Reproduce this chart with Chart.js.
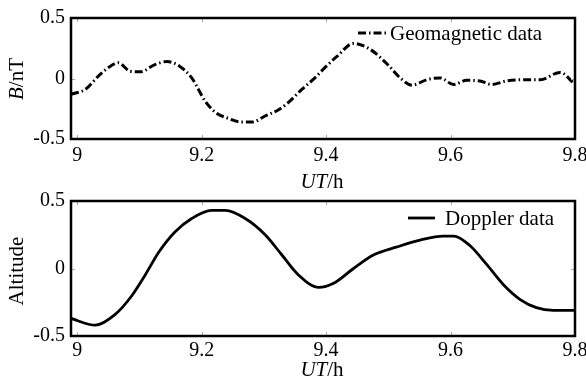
<!DOCTYPE html>
<html>
<head>
<meta charset="utf-8">
<script src="https://cdn.jsdelivr.net/npm/chart.js@4/dist/chart.umd.min.js"></script>
<style>
  html, body { margin: 0; padding: 0; background: #fff; }
  #wrap { position: relative; width: 586px; height: 384px; overflow: hidden; font-family: "Liberation Serif", "Times New Roman", serif; color: #000; }
  .cv { position: absolute; left: 0; width: 586px; }
  .lbl { position: absolute; font-size: 21px; white-space: nowrap; transform: translate(-50%, -50%); line-height: 1; }
  .rot { transform: translate(-50%, -50%) rotate(-90deg); }
</style>
</head>
<body>
<div id="wrap">
  <div class="cv" style="top:0;height:190px;"><canvas id="c1" width="586" height="190"></canvas></div>
  <div class="cv" style="top:190px;height:194px;"><canvas id="c2" width="586" height="194"></canvas></div>
  <div class="lbl rot" style="left:16px;top:79px;"><i>B</i>/nT</div>
  <div class="lbl rot" style="left:16px;top:271px;">Altitude</div>
  <div class="lbl" style="left:322px;top:181px;"><i>UT</i>/h</div>
  <div class="lbl" style="left:322px;top:369px;"><i>UT</i>/h</div>
</div>
<script>
// ---- data ----
const xTicks = [9, 9.2, 9.4, 9.6, 9.8];
const yTicks = [-0.5, 0, 0.5];

const geoLabel = "Geomagnetic data";
const geoX = [8.99, 9.013, 9.034, 9.05, 9.066, 9.085, 9.101, 9.125, 9.144, 9.165, 9.184, 9.206, 9.222, 9.243, 9.265, 9.281, 9.302, 9.323, 9.339, 9.361, 9.382, 9.398, 9.417, 9.444, 9.471, 9.498, 9.519, 9.538, 9.562, 9.583, 9.605, 9.626, 9.647, 9.666, 9.69, 9.722, 9.744, 9.776, 9.8];
const geoY = [-0.13, -0.09, 0.02, 0.09, 0.13, 0.06, 0.055, 0.115, 0.14, 0.10, 0.005, -0.19, -0.28, -0.33, -0.36, -0.36, -0.31, -0.26, -0.20, -0.09, 0.005, 0.09, 0.18, 0.29, 0.24, 0.12, 0.005, -0.055, -0.01, 0.005, -0.05, -0.015, -0.02, -0.05, -0.02, -0.01, -0.01, 0.05, -0.05];

const dopLabel = "Doppler data";
const dopX = [8.99, 9.029, 9.061, 9.088, 9.109, 9.131, 9.157, 9.184, 9.216, 9.238, 9.27, 9.302, 9.329, 9.356, 9.388, 9.412, 9.444, 9.476, 9.514, 9.551, 9.588, 9.605, 9.631, 9.658, 9.685, 9.712, 9.738, 9.765, 9.8];
const dopY = [-0.37, -0.42, -0.34, -0.20, -0.05, 0.12, 0.27, 0.37, 0.43, 0.43, 0.37, 0.25, 0.10, -0.05, -0.14, -0.11, 0.0, 0.10, 0.16, 0.21, 0.24, 0.24, 0.17, 0.03, -0.12, -0.23, -0.29, -0.31, -0.31];

const FONT = "'Liberation Serif', 'Times New Roman', serif";

const framePlugin = {
  id: 'frame',
  afterDatasetsDraw(chart, args, opts) {
    const ctx = chart.ctx, a = chart.chartArea;
    const xs = chart.scales.x, ys = chart.scales.y;
    ctx.save();
    // inner tick marks
    ctx.strokeStyle = '#aaa';
    ctx.lineWidth = 1;
    ctx.beginPath();
    xTicks.forEach(v => {
      const px = Math.round(xs.getPixelForValue(v)) + 0.5;
      ctx.moveTo(px, a.bottom); ctx.lineTo(px, a.bottom - 4);
      ctx.moveTo(px, a.top); ctx.lineTo(px, a.top + 4);
    });
    yTicks.forEach(v => {
      const py = Math.round(ys.getPixelForValue(v)) + 0.5;
      ctx.moveTo(a.left, py); ctx.lineTo(a.left + 4, py);
      ctx.moveTo(a.right, py); ctx.lineTo(a.right - 4, py);
    });
    ctx.stroke();
    // frame
    ctx.strokeStyle = '#000';
    ctx.lineWidth = 2.5;
    ctx.strokeRect(a.left, a.top, a.right - a.left, a.bottom - a.top);
    // legend
    const ds = chart.data.datasets[0];
    ctx.strokeStyle = '#000';
    ctx.lineWidth = ds.borderWidth;
    ctx.setLineDash(ds.borderDash || []);
    ctx.beginPath();
    ctx.moveTo(opts.lx0, opts.ly);
    ctx.lineTo(opts.lx1, opts.ly);
    ctx.stroke();
    ctx.setLineDash([]);
    ctx.fillStyle = '#000';
    ctx.font = '21px ' + FONT;
    ctx.textBaseline = 'middle';
    ctx.textAlign = 'left';
    ctx.fillText(ds.label, opts.tx, opts.ly + 1);
    ctx.restore();
  }
};

function makeChart(id, label, xs, ys, dash, width, xAxisH, pad, leg, xPad) {
  return new Chart(document.getElementById(id), {
    type: 'line',
    data: {
      datasets: [{
        label: label,
        data: xs.map((x, i) => ({ x: x, y: ys[i] })),
        borderColor: '#000',
        borderWidth: width,
        borderDash: dash,
        pointRadius: 0,
        tension: 0.4,
        cubicInterpolationMode: 'monotone',
        fill: false
      }]
    },
    options: {
      responsive: false,
      animation: false,
      devicePixelRatio: 1,
      layout: { padding: pad },
      plugins: {
        legend: { display: false },
        tooltip: { enabled: false },
        frame: leg
      },
      scales: {
        x: {
          type: 'linear',
          min: 8.99,
          max: 9.8,
          grid: { display: false, drawTicks: false },
          border: { display: false },
          ticks: {
            color: '#000',
            font: { family: FONT, size: 20 },
            padding: xPad,
            maxRotation: 0,
            callback: v => String(v)
          },
          afterBuildTicks: s => { s.ticks = xTicks.map(v => ({ value: v })); },
          afterFit: s => { s.height = xAxisH; s.paddingLeft = 0; s.paddingRight = 0; }
        },
        y: {
          type: 'linear',
          min: -0.5,
          max: 0.5,
          grid: { display: false, drawTicks: false },
          border: { display: false },
          ticks: {
            color: '#000',
            font: { family: FONT, size: 20 },
            padding: 6,
            callback: v => String(v)
          },
          afterBuildTicks: s => { s.ticks = yTicks.map(v => ({ value: v })); },
          afterFit: s => { s.width = 71; s.paddingTop = 0; s.paddingBottom = 0; }
        }
      }
    },
    plugins: [framePlugin]
  });
}

makeChart('c1', geoLabel, geoX, geoY, [8, 3, 1.5, 3], 3, 51,
  { top: 18, right: 11, left: 0, bottom: 0 },
  { lx0: 358, lx1: 386, ly: 33, tx: 390 }, 5);

makeChart('c2', dopLabel, dopX, dopY, [], 2.8, 48,
  { top: 11, right: 11, left: 0, bottom: 0 },
  { lx0: 408, lx1: 435, ly: 28, tx: 445 }, 3);
</script>
</body>
</html>
